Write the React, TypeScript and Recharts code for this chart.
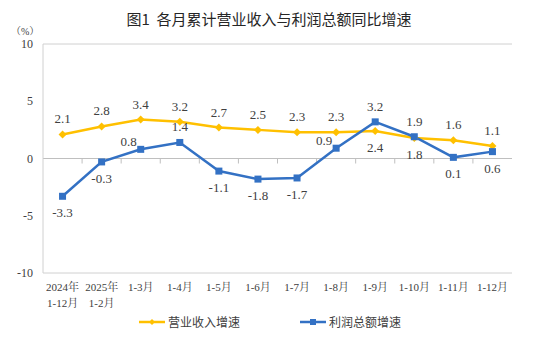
import React from 'react'
import { LineChart, Line, XAxis, YAxis, ReferenceLine, LabelList, Legend } from 'recharts'

const categories = ['2024年\n1-12月', '2025年\n1-2月', '1-3月', '1-4月', '1-5月', '1-6月', '1-7月', '1-8月', '1-9月', '1-10月', '1-11月', '1-12月']
const revenueGrowth = [2.1, 2.8, 3.4, 3.2, 2.7, 2.5, 2.3, 2.3, 2.4, 1.8, 1.6, 1.1]
const profitGrowth = [-3.3, -0.3, 0.8, 1.4, -1.1, -1.8, -1.7, 0.9, 3.2, 1.9, 0.1, 0.6]
const yTicks = [-10, -5, 0, 5, 10]

// where each data label sits relative to its point
const revenueLabelPos = ['top', 'top', 'top', 'top', 'top', 'top', 'top', 'top', 'bottom', 'bottom', 'top', 'top']
const profitLabelPos = ['bottom', 'bottom', 'left', 'top', 'bottom', 'bottom', 'bottom', 'left', 'top', 'top', 'bottom', 'bottom']

const data = categories.map((name, i) => ({
  name,
  revenue: revenueGrowth[i],
  profit: profitGrowth[i]
}))

const ORANGE = '#FFC000'
const BLUE = '#3371C4'
const TEXT = '#404040'
const FRAME = '#d0d0d0'
const SERIF = '"Times New Roman", "Liberation Serif", "Noto Serif CJK SC", "Noto Sans CJK SC", serif'
const CJK = '"Noto Sans CJK SC", sans-serif'

const Diamond = (props: any) => {
  const { cx, cy, index } = props
  return <path key={`d${index}`} d={`M${cx},${cy - 4}L${cx + 4},${cy}L${cx},${cy + 4}L${cx - 4},${cy}Z`} fill={ORANGE} />
}

const Square = (props: any) => {
  const { cx, cy, index } = props
  return <rect key={`s${index}`} x={cx - 3.5} y={cy - 3.5} width={7} height={7} fill={BLUE} />
}

const makeLabel = (positions: string[]) => (props: any) => {
  const { x, y, value, index } = props
  const pos = positions[index]
  let tx = x
  let ty = y - 11
  let anchor = 'middle'
  if (pos === 'bottom') ty = y + 21
  if (pos === 'left') {
    tx = x - 4
    ty = y - 3
    anchor = 'end'
  }
  return (
    <text key={`l${index}`} x={tx} y={ty} textAnchor={anchor} style={{ fontSize: 13, fontFamily: SERIF, fill: TEXT }}>
      {value}
    </text>
  )
}

const XTick = (props: any) => {
  const { x, y, payload } = props
  const lines = String(payload.value).split('\n')
  return (
    <g transform={`translate(${x},${y})`}>
      {lines.map((l, i) => (
        <text key={i} x={0} y={i * 16} dy={10} textAnchor='middle' style={{ fontSize: 11, fontFamily: SERIF, fill: TEXT }}>
          {l}
        </text>
      ))}
    </g>
  )
}

const YTick = (props: any) => {
  const { x, y, payload } = props
  return (
    <text x={x} y={y} dy={4} textAnchor='end' style={{ fontSize: 12, fontFamily: SERIF, fill: TEXT }}>
      {payload.value}
    </text>
  )
}

const ZeroLine = (props: any) => {
  const { x1, x2, y1 } = props
  const step = (x2 - x1) / categories.length
  const ticks = categories.slice(1).map((_, i) => x1 + step * (i + 1))
  return (
    <g>
      <line x1={x1} x2={x2} y1={y1} y2={y1} stroke='#bfbfbf' strokeWidth={1} />
      {ticks.map((tx, i) => (
        <line key={i} x1={tx} x2={tx} y1={y1} y2={y1 + 5} stroke='#bfbfbf' strokeWidth={1} />
      ))}
    </g>
  )
}

const LegendContent = () => (
  <div style={{ display: 'flex', justifyContent: 'center', gap: 60, paddingLeft: 20, fontFamily: CJK, fontSize: 12, color: TEXT }}>
    {[
      { label: '营业收入增速', color: ORANGE, marker: 'diamond' },
      { label: '利润总额增速', color: BLUE, marker: 'square' }
    ].map(item => (
      <div key={item.label} style={{ display: 'flex', alignItems: 'center' }}>
        <svg width={26} height={10} style={{ marginRight: 3 }}>
          <line x1={0} x2={26} y1={5} y2={5} stroke={item.color} strokeWidth={2.5} />
          {item.marker === 'diamond' ? (
            <path d='M13,2L16,5L13,8L10,5Z' fill={item.color} />
          ) : (
            <rect x={10} y={2} width={6} height={6} fill={item.color} />
          )}
        </svg>
        <span>{item.label}</span>
      </div>
    ))}
  </div>
)

export default function App() {
  return (
    <div style={{ position: 'absolute', left: 0, top: 0, width: 535, height: 337, background: '#fff' }}>
      <div
        style={{
          position: 'absolute',
          top: 8,
          left: 0,
          width: 538,
          textAlign: 'center',
          fontFamily: CJK,
          fontSize: 15,
          color: '#262626'
        }}
      >
        图1&nbsp;&nbsp;各月累计营业收入与利润总额同比增速
      </div>
      <div style={{ position: 'absolute', top: 23, left: 11, fontFamily: SERIF, fontSize: 10, color: TEXT }}>（%）</div>
      <LineChart width={535} height={337} data={data} margin={{ top: 44, right: 23, left: 8, bottom: 4 }}>
        <ReferenceLine y={10} stroke={FRAME} ifOverflow='visible' />
        <ReferenceLine y={-10} stroke={FRAME} ifOverflow='visible' />
        <ReferenceLine y={0} shape={ZeroLine} />
        <XAxis dataKey='name' scale='band' interval={0} axisLine={false} tickLine={false} tick={<XTick />} height={40} />
        <YAxis
          domain={[-10, 10]}
          ticks={yTicks}
          axisLine={{ stroke: FRAME }}
          tickLine={false}
          tickSize={0}
          tickMargin={10}
          width={35}
          tick={<YTick />}
        />
        <YAxis yAxisId='frame' orientation='right' domain={[-10, 10]} axisLine={{ stroke: FRAME }} tickLine={false} tick={false} width={0} />
        <Legend verticalAlign='bottom' height={20} content={<LegendContent />} />
        <Line dataKey='revenue' name='营业收入增速' stroke={ORANGE} strokeWidth={2.5} dot={Diamond} isAnimationActive={false}>
          <LabelList dataKey='revenue' content={makeLabel(revenueLabelPos)} />
        </Line>
        <Line dataKey='profit' name='利润总额增速' stroke={BLUE} strokeWidth={2.5} dot={Square} isAnimationActive={false}>
          <LabelList dataKey='profit' content={makeLabel(profitLabelPos)} />
        </Line>
      </LineChart>
    </div>
  )
}
